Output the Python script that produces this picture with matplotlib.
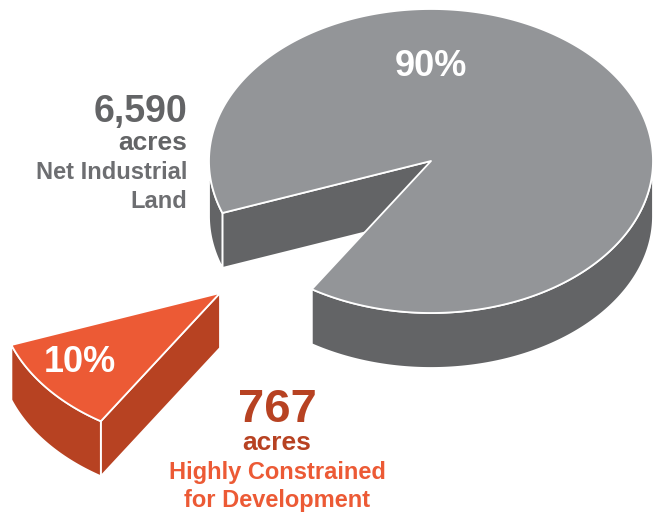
import numpy as np
import matplotlib.pyplot as plt
from matplotlib.patches import Polygon

# data
acres = [6590, 767]
amount_labels = ["6,590", "767"]
categories = [["Net Industrial", "Land"], ["Highly Constrained", "for Development"]]

# look
top_colors = ["#939598", "#ec5a35"]
side_colors = ["#636466", "#b74222"]
text_dark = ["#636466", "#b74222"]
text_light = ["#6d6e71", "#ec5a35"]

total = sum(acres)
spans = [360.0 * v / total for v in acres]
small_start = 200.0
# slice angle ranges (parametric degrees, counter-clockwise)
ranges = [(small_start + spans[1], small_start + spans[1] + spans[0]),
          (small_start, small_start + spans[1])]

cx, cy = 431, 161          # centre of the top ellipse (px)
rx, ry = 222, 152          # semi axes
depth = 55                 # thickness of the pie
offsets = [(0, 0), (-211, 132)]   # explode shift
pct_pos = [(90, 0.62), (216, 0.78)]  # (angle, radius) of % labels

fig = plt.figure(figsize=(6.54, 5.14), dpi=100)
ax = fig.add_axes([0, 0, 1, 1])
ax.set_xlim(0, 654)
ax.set_ylim(514, 0)
ax.axis('off')


def pt(t, ox, oy, dz=0.0, r=1.0):
    a = np.radians(t)
    return ox + r * rx * np.cos(a), oy - r * ry * np.sin(a) + dz


def add_poly(xy, color):
    ax.add_patch(Polygon(xy, closed=True, facecolor=color, edgecolor='white',
                         linewidth=1.3, joinstyle='round'))


for i in range(len(acres)):
    t0, t1 = ranges[i]
    ox, oy = cx + offsets[i][0], cy + offsets[i][1]

    # cut walls
    for t, nrm in [(t0, t0 - 90), (t1, t1 + 90)]:
        if np.sin(np.radians(nrm)) < 0:
            ex, ey = pt(t, ox, oy)
            add_poly([(ox, oy), (ex, ey), (ex, ey + depth), (ox, oy + depth)], side_colors[i])

    # outer wall, only the front facing parts
    ts = np.linspace(t0, t1, 400)
    front = np.sin(np.radians(ts)) < 0
    idx = np.where(front)[0]
    if len(idx):
        runs = np.split(idx, np.where(np.diff(idx) > 1)[0] + 1)
        for run in runs:
            tt = ts[run]
            xs, ys = pt(tt, ox, oy)
            top = list(zip(xs, ys))
            bot = list(zip(xs[::-1], ys[::-1] + depth))
            add_poly(top + bot, side_colors[i])

    # top face
    xs, ys = pt(ts, ox, oy)
    add_poly([(ox, oy)] + list(zip(xs, ys)), top_colors[i])

    # percent label
    ang, rr = pct_pos[i]
    lx, ly = pt(ang, ox, oy, r=rr)
    ax.text(lx, ly, f"{round(100 * acres[i] / total)}%", color='white',
            fontsize=26, fontweight='bold', family='Liberation Sans',
            ha='center', va='center')

# side labels
font = dict(family='Liberation Sans', fontweight='bold', va='baseline')
ax.text(187, 122, amount_labels[0], color=text_dark[0], fontsize=27, ha='right', **font)
ax.text(187, 150, "acres", color=text_dark[0], fontsize=19, ha='right', **font)
ax.text(187, 179, categories[0][0], color=text_light[0], fontsize=17, ha='right', **font)
ax.text(187, 208, categories[0][1], color=text_light[0], fontsize=17, ha='right', **font)

ax.text(277, 422, amount_labels[1], color=text_dark[1], fontsize=34, ha='center', **font)
ax.text(277, 450, "acres", color=text_dark[1], fontsize=19, ha='center', **font)
ax.text(277, 479, categories[1][0], color=text_light[1], fontsize=17, ha='center', **font)
ax.text(277, 507, categories[1][1], color=text_light[1], fontsize=17, ha='center', **font)

fig.savefig("out.png", dpi=100)
